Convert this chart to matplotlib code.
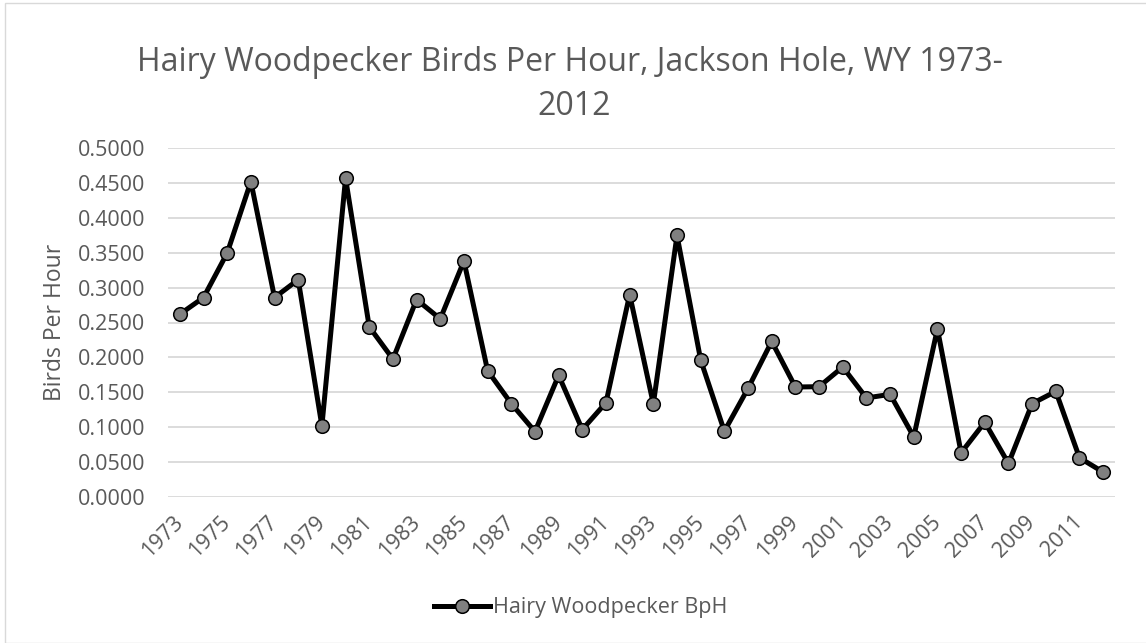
import matplotlib.pyplot as plt
from matplotlib.patches import Rectangle
import numpy as np

## Global style
plt.rcParams['font.family'] = ['Open Sans', 'DejaVu Sans']
plt.rcParams['font.size'] = 15.5
plt.rcParams['text.color'] = '#595959'

## Data: hairy woodpecker birds per hour by year
years = list(range(1973, 2013))
bph = [0.2619, 0.2858, 0.3497, 0.4523, 0.2858, 0.3115, 0.1016, 0.4571, 0.2438, 0.1975,
       0.2829, 0.2552, 0.3383, 0.1808, 0.1336, 0.0935, 0.1741, 0.0964, 0.1350, 0.2901,
       0.1331, 0.3750, 0.1961, 0.0940, 0.1555, 0.2228, 0.1574, 0.1579, 0.1861, 0.1417,
       0.1469, 0.0859, 0.2409, 0.0630, 0.1069, 0.0477, 0.1336, 0.1512, 0.0558, 0.0353]
y_ticks = np.arange(0, 0.5001, 0.05)

W, H = 1146, 643
fig = plt.figure(figsize=(W / 100, H / 100), dpi=100)

## chart area border
fig.patches.append(Rectangle((5 / W, 0.0), 1.2, 1 - 3 / H, transform=fig.transFigure,
                             fill=False, edgecolor='#D9D9D9', linewidth=1.0))

ax = fig.add_axes([168 / W, 1 - 496.7 / H, (1115 - 168) / W, (496.7 - 148.3) / H])

x = np.arange(len(years))
ax.plot(x, bph, color='black', linewidth=3.6, marker='o', markersize=9.8,
        markerfacecolor='#808080', markeredgecolor='black', markeredgewidth=1.1,
        label='Hairy Woodpecker BpH', zorder=3)

ax.set_xlim(-0.5, len(years) - 0.5)
ax.set_ylim(0, 0.5)
ax.set_yticks(y_ticks)
ax.set_yticklabels(['%.4f' % v for v in y_ticks])
ax.set_xticks(x[::2])
ax.set_xticklabels([str(y) for y in years[::2]], rotation=45, ha='right', va='center',
                   rotation_mode='anchor')

ax.grid(axis='y', color='#D9D9D9', linewidth=1.3)
ax.set_axisbelow(True)
for s in ax.spines.values():
    s.set_visible(False)
ax.tick_params(length=0, colors='#595959', labelsize=15.5)
ax.tick_params(axis='y', pad=16.5)
ax.tick_params(axis='x', pad=16)

## y axis title
fig.text(55 / W, 1 - 322 / H, 'Birds Per Hour', rotation=90, ha='center', va='center',
         fontsize=16.5, color='#595959')

## chart title, two lines
fig.text(570 / W, 1 - 71 / H, 'Hairy Woodpecker Birds Per Hour, Jackson Hole, WY 1973-',
         ha='center', va='baseline', fontsize=23, color='#595959')
fig.text(574 / W, 1 - 115 / H, '2012',
         ha='center', va='baseline', fontsize=23, color='#595959')

leg = fig.legend(loc='center', bbox_to_anchor=(581 / W, 1 - 608 / H), frameon=False,
                 fontsize=15.5, handlelength=2.6, handletextpad=0.15)

fig.savefig('out.png', dpi=100)
